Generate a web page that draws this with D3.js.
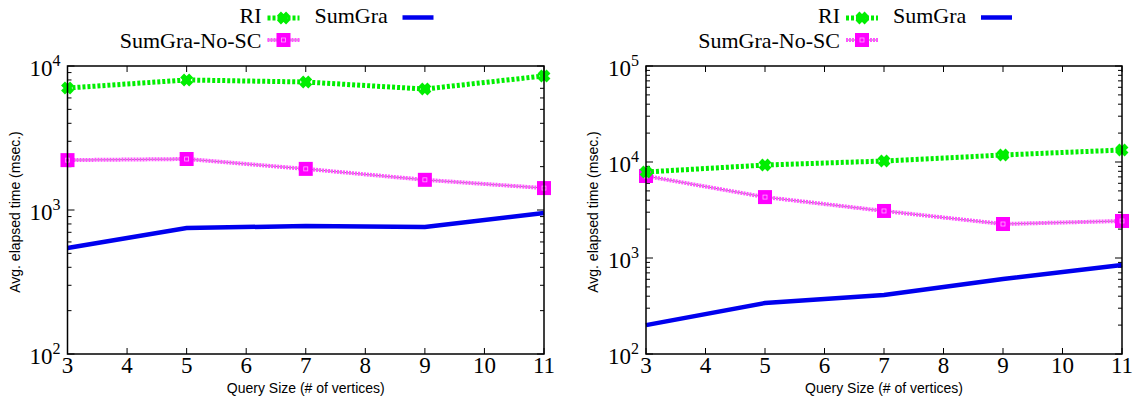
<!DOCTYPE html>
<html>
<head>
<meta charset="utf-8">
<script src="https://cdn.jsdelivr.net/npm/d3@7"></script>
<style>
  body { margin: 0; background: #fff; }
  svg { display: block; }
</style>
</head>
<body>
<div id="chart"></div>
<script>
// query sizes (x)
const querySizes = [3, 5, 7, 9, 11];
const xTicks = [3, 4, 5, 6, 7, 8, 9, 10, 11];

// left panel values (msec.)
const leftRI = [7030, 8000, 7740, 6920, 8530];
const leftNoSC = [2220, 2260, 1930, 1620, 1420];
const leftSumGra = [545, 750, 774, 762, 952];

// right panel values (msec.)
const rightRI = [7870, 9300, 10240, 11830, 13340];
const rightNoSC = [7150, 4310, 3090, 2260, 2430];
const rightSumGra = [200, 340, 412, 604, 845];

const seriesNames = ["RI", "SumGra", "SumGra-No-SC"];

const panels = [
    { left: 67.5, right: 544, yMin: 100, yMax: 1e4, data: [leftRI, leftSumGra, leftNoSC] },
    { left: 646, right: 1122, yMin: 100, yMax: 1e5, data: [rightRI, rightSumGra, rightNoSC] }
];

const plotTop = 66, plotBottom = 354;

const svg = d3.select("#chart").append("svg")
    .attr("width", 1143)
    .attr("height", 398);

const serif = "Liberation Serif";
const sans = "Liberation Sans";

// X marker path
function crossPath(s) {
    return `M${-s},${-s}L${s},${s}M${-s},${s}L${s},${-s}`;
}

function drawRI(g, pts, markers) {
    g.append("path")
        .attr("d", d3.line()(pts))
        .attr("fill", "none")
        .attr("stroke", "#00ee00")
        .attr("stroke-width", 5)
        .attr("stroke-dasharray", "3,2");
    markers.forEach(p => {
        g.append("path")
            .attr("transform", `translate(${p[0]},${p[1]})`)
            .attr("d", crossPath(4.5))
            .attr("stroke", "#00ee00")
            .attr("stroke-width", 5.5)
            .attr("fill", "none");
    });
}

function drawNoSC(g, pts, markers) {
    g.append("path")
        .attr("d", d3.line()(pts))
        .attr("fill", "none")
        .attr("stroke", "#888")
        .attr("stroke-width", 1);
    g.append("path")
        .attr("d", d3.line()(pts))
        .attr("fill", "none")
        .attr("stroke", "#ff55ff")
        .attr("stroke-width", 4)
        .attr("stroke-dasharray", "2,1");
    markers.forEach(p => {
        g.append("rect")
            .attr("x", p[0] - 7).attr("y", p[1] - 7)
            .attr("width", 14).attr("height", 14)
            .attr("fill", "#ff00ff");
        g.append("rect")
            .attr("x", p[0] - 2).attr("y", p[1] - 2)
            .attr("width", 4).attr("height", 4)
            .attr("fill", "none")
            .attr("stroke", "#ffb0ff")
            .attr("stroke-width", 0.8);
    });
}

function drawSumGra(g, pts) {
    g.append("path")
        .attr("d", d3.line()(pts))
        .attr("fill", "none")
        .attr("stroke", "#0000ee")
        .attr("stroke-width", 4.5);
}

panels.forEach(p => {
    let g = svg.append("g");

    let x = d3.scaleLinear().domain([3, 11]).range([p.left, p.right]);
    let y = d3.scaleLog().domain([p.yMin, p.yMax]).range([plotBottom, plotTop]);

    // y ticks (major + minor), left and right, inward
    let majors = [];
    for (let e = Math.round(Math.log10(p.yMin)); e <= Math.round(Math.log10(p.yMax)); e++) majors.push(e);
    let minors = [];
    majors.slice(0, -1).forEach(e => {
        for (let m = 2; m <= 9; m++) minors.push(m * Math.pow(10, e));
    });

    g.selectAll(".minorY").data(minors).enter().append("path")
        .attr("d", d => `M${p.left},${y(d)}h4M${p.right},${y(d)}h-4`)
        .attr("stroke", "#000").attr("stroke-width", 1);
    g.selectAll(".majorY").data(majors).enter().append("path")
        .attr("d", e => `M${p.left},${y(Math.pow(10, e))}h7M${p.right},${y(Math.pow(10, e))}h-7`)
        .attr("stroke", "#000").attr("stroke-width", 1);

    // y tick labels 10^n
    majors.forEach(e => {
        let t = g.append("text")
            .attr("x", p.left - 7)
            .attr("y", y(Math.pow(10, e)) + 10)
            .attr("text-anchor", "end")
            .attr("font-family", serif)
            .attr("font-size", 23);
        t.append("tspan").text("10");
        t.append("tspan").attr("dy", -10).attr("font-size", 16).text(e);
    });

    // x ticks bottom and top
    g.selectAll(".xt").data(xTicks).enter().append("path")
        .attr("d", d => `M${x(d)},${plotBottom}v-6M${x(d)},${plotTop}v6`)
        .attr("stroke", "#000").attr("stroke-width", 1);
    g.selectAll(".xl").data(xTicks).enter().append("text")
        .attr("x", d => x(d))
        .attr("y", plotBottom + 19)
        .attr("text-anchor", "middle")
        .attr("font-family", serif)
        .attr("font-size", 23)
        .text(d => d);

    // axis titles
    g.append("text")
        .attr("x", (p.left + p.right) / 2)
        .attr("y", 393)
        .attr("text-anchor", "middle")
        .attr("font-family", sans)
        .attr("font-size", 14)
        .text("Query Size (# of vertices)");
    g.append("text")
        .attr("transform", `translate(${p.left - 48},212) rotate(-90)`)
        .attr("text-anchor", "middle")
        .attr("font-family", sans)
        .attr("font-size", 14)
        .text("Avg. elapsed time (msec.)");

    // series
    let pts = vals => querySizes.map((q, i) => [x(q), y(vals[i])]);
    drawSumGra(g, pts(p.data[1]));
    let noSC = pts(p.data[2]);
    drawNoSC(g, noSC, noSC);
    let ri = pts(p.data[0]);
    drawRI(g, ri, ri);

    // frame
    g.append("rect")
        .attr("x", p.left).attr("y", plotTop)
        .attr("width", p.right - p.left).attr("height", plotBottom - plotTop)
        .attr("fill", "none")
        .attr("stroke", "#000")
        .attr("stroke-width", 1.5);

    // legend
    let lx = p.left + 194;
    let leg = g.append("g");
    leg.append("text").attr("x", lx).attr("y", 22.5).attr("text-anchor", "end")
        .attr("font-family", serif).attr("font-size", 22).text(seriesNames[0]);
    drawRI(leg, [[lx + 6, 18], [lx + 38, 18]], [[lx + 22, 18]]);

    leg.append("text").attr("x", lx + 53).attr("y", 22.5)
        .attr("font-family", serif).attr("font-size", 22).text(seriesNames[1]);
    drawSumGra(leg, [[lx + 141, 17.5], [lx + 172, 17.5]]);

    leg.append("text").attr("x", lx).attr("y", 47.5).attr("text-anchor", "end")
        .attr("font-family", serif).attr("font-size", 22).text(seriesNames[2]);
    drawNoSC(leg, [[lx + 6, 40], [lx + 38, 40]], [[lx + 22, 40]]);
});
</script>
</body>
</html>
